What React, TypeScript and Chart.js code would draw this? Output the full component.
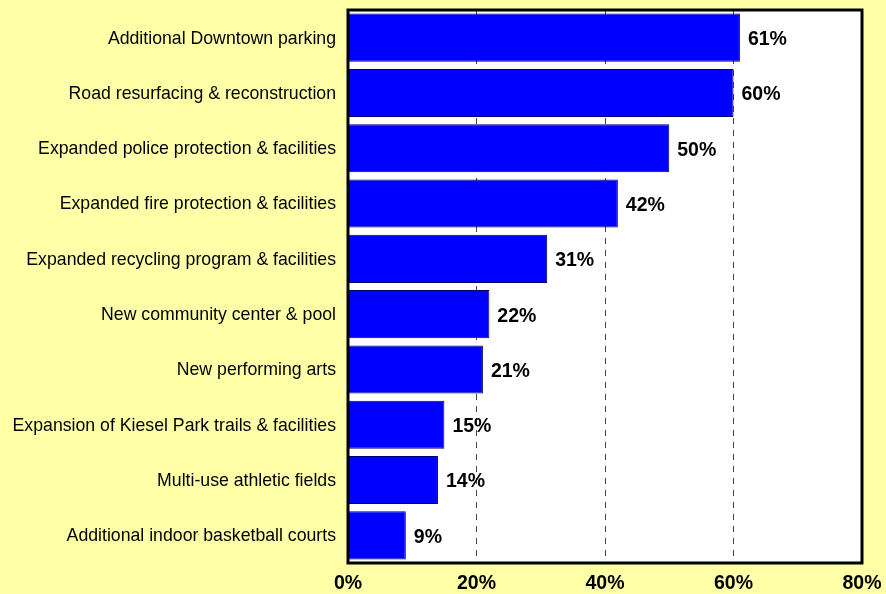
import React, { useEffect, useRef } from "react";
import { Chart, registerables } from "chart.js";

Chart.register(...registerables);

const categories = [
  "Additional Downtown parking",
  "Road resurfacing & reconstruction",
  "Expanded police protection & facilities",
  "Expanded fire protection & facilities",
  "Expanded recycling program & facilities",
  "New community center & pool",
  "New performing arts",
  "Expansion of Kiesel Park trails & facilities",
  "Multi-use athletic fields",
  "Additional indoor basketball courts",
];
const values = [61, 60, 50, 42, 31, 22, 21, 15, 14, 9];
const xTicks = [0, 20, 40, 60, 80];

const FONT = "Arial";

const plotBg = {
  id: "plotBg",
  beforeDraw(chart: any) {
    const { ctx, chartArea: a, width, height } = chart;
    ctx.save();
    ctx.fillStyle = "#ffffa8";
    ctx.fillRect(0, 0, width, height);
    ctx.fillStyle = "#ffffff";
    ctx.fillRect(a.left, a.top, a.right - a.left, a.bottom - a.top);
    ctx.restore();
  },
  afterDraw(chart: any) {
    const { ctx, chartArea: a } = chart;
    ctx.save();
    ctx.strokeStyle = "rgb(0,0,0)";
    ctx.lineWidth = 3;
    ctx.strokeRect(a.left, a.top, a.right - a.left, a.bottom - a.top);
    ctx.restore();
  },
};

const valueLabels = {
  id: "valueLabels",
  afterDatasetsDraw(chart: any) {
    const { ctx } = chart;
    const meta = chart.getDatasetMeta(0);
    ctx.save();
    ctx.font = `bold 19.5px ${FONT}`;
    ctx.fillStyle = "rgb(0,0,0)";
    ctx.textAlign = "left";
    ctx.textBaseline = "middle";
    meta.data.forEach((bar: any, i: number) => {
      ctx.fillText(values[i] + "%", bar.x + 8, bar.y + 2);
    });
    ctx.restore();
  },
};

export default function App() {
  const ref = useRef<HTMLCanvasElement>(null);
  useEffect(() => {
    const chart = new Chart(ref.current!, {
      type: "bar",
      data: {
        labels: categories,
        datasets: [
          {
            data: values,
            backgroundColor: "#0000ff",
            borderColor: "#000066",
            borderWidth: 1,
            barPercentage: 0.87,
            categoryPercentage: 1,
          },
        ],
      },
      options: {
        indexAxis: "y",
        animation: false,
        responsive: false,
        layout: { padding: { top: 10, right: 24, left: 0, bottom: 0 } },
        plugins: { legend: { display: false }, tooltip: { enabled: false } },
        scales: {
          x: {
            min: 0,
            max: 80,
            afterBuildTicks(scale: any) {
              scale.ticks = xTicks.map((v) => ({ value: v }));
            },
            afterFit(scale: any) {
              scale.height = 31;
              scale.paddingLeft = 0;
              scale.paddingRight = 0;
            },
            ticks: {
              color: "rgb(0,0,0)",
              font: { family: FONT, size: 19.5, weight: "bold" },
              padding: 9,
              maxRotation: 0,
              callback: (v: any) => v + "%",
            },
            grid: {
              drawTicks: false,
              color: (c: any) =>
                c.tick && (c.tick.value === 0 || c.tick.value === 80)
                  ? "rgba(0,0,0,0)"
                  : "rgb(68,68,68)",
              lineWidth: 1,
            },
            border: { display: false, dash: [6, 6] },
          },
          y: {
            afterFit(scale: any) {
              scale.width = 348;
              scale.paddingTop = 0;
              scale.paddingBottom = 0;
            },
            ticks: {
              color: "rgb(0,0,0)",
              font: { family: FONT, size: 17.7 },
              padding: 12,
              labelOffset: 1,
            },
            grid: { display: false, drawTicks: false },
            border: { display: false },
          },
        },
      },
      plugins: [plotBg, valueLabels],
    });
    return () => chart.destroy();
  }, []);
  return (
    <div
      style={{
        position: "fixed",
        left: 0,
        top: 0,
        width: 886,
        height: 594,
        background: "#ffffa8",
      }}
    >
      <canvas ref={ref} width={886} height={594} style={{ display: "block" }} />
    </div>
  );
}
